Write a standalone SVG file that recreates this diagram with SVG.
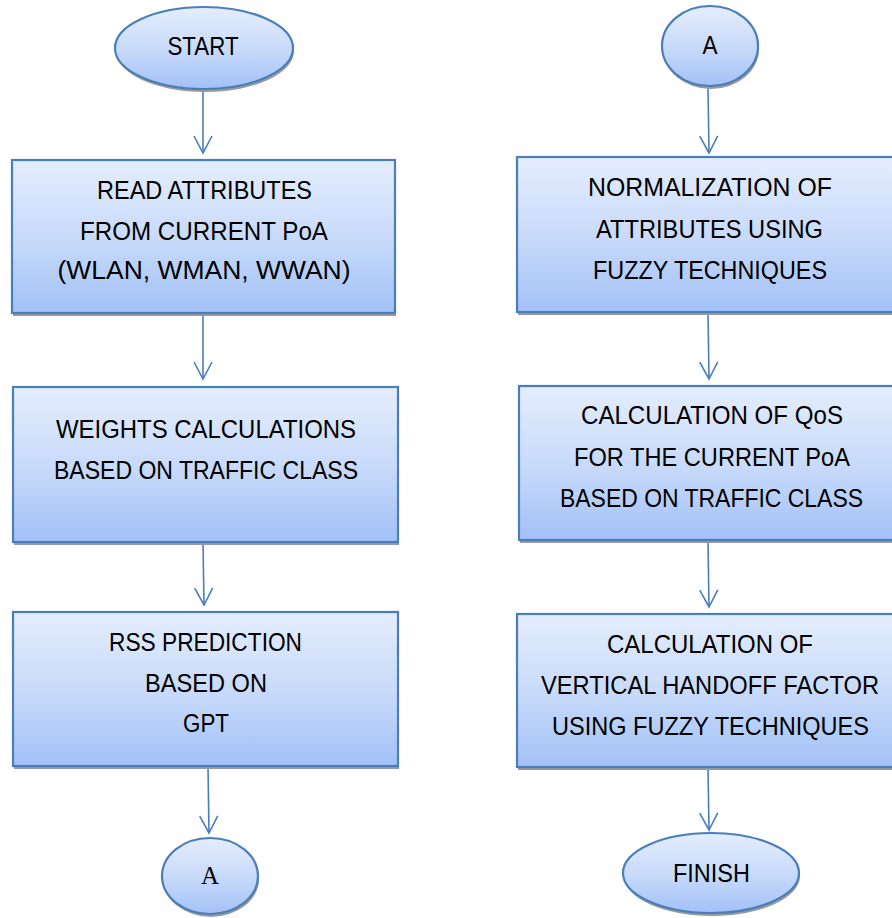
<svg xmlns="http://www.w3.org/2000/svg" width="892" height="918" viewBox="0 0 892 918">
<defs>
<linearGradient id="fillGrad" x1="0" y1="0" x2="0" y2="1">
<stop offset="0" stop-color="#e4edfd"/>
<stop offset="0.5" stop-color="#c9dbfa"/>
<stop offset="1" stop-color="#a2c1f7"/>
</linearGradient>
<marker id="arrow" viewBox="0 0 20 20" refX="18" refY="10" markerWidth="20" markerHeight="20" markerUnits="userSpaceOnUse" orient="auto">
<path d="M1,1 L18,10 L1,19" fill="none" stroke="#4a7ebb" stroke-width="1.6"/>
</marker>
</defs>
<style>
.shape{fill:url(#fillGrad);stroke:#4a7ebb;stroke-width:2.2}
.shadow{fill:#9a9a9a}
.lbl{font-family:"Liberation Sans",Arial,sans-serif;font-size:25px;fill:#000;text-anchor:middle}
.serif{font-family:"Liberation Serif","Times New Roman",serif;font-size:26px;fill:#000;text-anchor:middle}
.conn{stroke:#4a7ebb;stroke-width:1.6;fill:none;marker-end:url(#arrow)}
</style>
<rect width="892" height="918" fill="#fff"/>

<g id="connectors">
<line class="conn" x1="203" y1="90" x2="203" y2="153"/>
<line class="conn" x1="203" y1="314" x2="203" y2="379"/>
<line class="conn" x1="203" y1="543" x2="204" y2="605"/>
<line class="conn" x1="208" y1="767" x2="209" y2="833"/>
<line class="conn" x1="708" y1="87" x2="709" y2="153"/>
<line class="conn" x1="708" y1="313" x2="709" y2="379"/>
<line class="conn" x1="708" y1="541" x2="709" y2="607"/>
<line class="conn" x1="708" y1="768" x2="709" y2="830"/>
</g>

<g id="start">
<ellipse class="shadow" cx="205" cy="51" rx="89" ry="41"/>
<ellipse class="shape" cx="204" cy="48" rx="89" ry="41"/>
<text class="lbl" x="203" y="55" textLength="71" lengthAdjust="spacingAndGlyphs">START</text>
</g>

<g id="read-attributes">
<rect class="shadow" x="13" y="163" width="383" height="153"/>
<rect class="shape" x="12" y="160" width="383" height="153"/>
<text class="lbl" x="204.5" y="199" textLength="215" lengthAdjust="spacingAndGlyphs">READ ATTRIBUTES</text>
<text class="lbl" x="204" y="240" textLength="248" lengthAdjust="spacingAndGlyphs">FROM CURRENT PoA</text>
<text class="lbl" x="204" y="279" textLength="293" lengthAdjust="spacingAndGlyphs">(WLAN, WMAN, WWAN)</text>
</g>

<g id="weights">
<rect class="shadow" x="14" y="390" width="385" height="155"/>
<rect class="shape" x="13" y="387" width="385" height="155"/>
<text class="lbl" x="206" y="438" textLength="300" lengthAdjust="spacingAndGlyphs">WEIGHTS CALCULATIONS</text>
<text class="lbl" x="206" y="479" textLength="304" lengthAdjust="spacingAndGlyphs">BASED ON TRAFFIC CLASS</text>
</g>

<g id="rss-prediction">
<rect class="shadow" x="14" y="615" width="385" height="154"/>
<rect class="shape" x="13" y="612" width="385" height="154"/>
<text class="lbl" x="205.5" y="651" textLength="193" lengthAdjust="spacingAndGlyphs">RSS PREDICTION</text>
<text class="lbl" x="206" y="692" textLength="122" lengthAdjust="spacingAndGlyphs">BASED ON</text>
<text class="lbl" x="206" y="732" textLength="46" lengthAdjust="spacingAndGlyphs">GPT</text>
</g>

<g id="a-left">
<ellipse class="shadow" cx="211" cy="879" rx="48" ry="38"/>
<ellipse class="shape" cx="210" cy="876" rx="48" ry="38"/>
<text class="serif" x="210" y="884" textLength="18" lengthAdjust="spacingAndGlyphs">A</text>
</g>

<g id="a-right">
<ellipse class="shadow" cx="711" cy="49" rx="48" ry="40"/>
<ellipse class="shape" cx="710" cy="46" rx="48" ry="40"/>
<text class="lbl" x="710" y="54" textLength="15" lengthAdjust="spacingAndGlyphs">A</text>
</g>

<g id="normalization">
<rect class="shadow" x="518" y="160" width="390" height="155"/>
<rect class="shape" x="517" y="157" width="390" height="155"/>
<text class="lbl" x="710" y="196" textLength="244" lengthAdjust="spacingAndGlyphs">NORMALIZATION OF</text>
<text class="lbl" x="709.5" y="238" textLength="227" lengthAdjust="spacingAndGlyphs">ATTRIBUTES USING</text>
<text class="lbl" x="710" y="279" textLength="234" lengthAdjust="spacingAndGlyphs">FUZZY TECHNIQUES</text>
</g>

<g id="qos">
<rect class="shadow" x="520" y="389" width="390" height="154"/>
<rect class="shape" x="519" y="386" width="390" height="154"/>
<text class="lbl" x="712" y="424" textLength="262" lengthAdjust="spacingAndGlyphs">CALCULATION OF QoS</text>
<text class="lbl" x="712" y="466" textLength="276" lengthAdjust="spacingAndGlyphs">FOR THE CURRENT PoA</text>
<text class="lbl" x="711.5" y="507" textLength="303" lengthAdjust="spacingAndGlyphs">BASED ON TRAFFIC CLASS</text>
</g>

<g id="handoff">
<rect class="shadow" x="518" y="617" width="390" height="153"/>
<rect class="shape" x="517" y="614" width="390" height="153"/>
<text class="lbl" x="710" y="653" textLength="206" lengthAdjust="spacingAndGlyphs">CALCULATION OF</text>
<text class="lbl" x="710" y="694" textLength="338" lengthAdjust="spacingAndGlyphs">VERTICAL HANDOFF FACTOR</text>
<text class="lbl" x="710.5" y="735" textLength="317" lengthAdjust="spacingAndGlyphs">USING FUZZY TECHNIQUES</text>
</g>

<g id="finish">
<ellipse class="shadow" cx="712" cy="876" rx="88" ry="40"/>
<ellipse class="shape" cx="711" cy="873" rx="88" ry="40"/>
<text class="lbl" x="711.5" y="882" textLength="77" lengthAdjust="spacingAndGlyphs">FINISH</text>
</g>
</svg>
